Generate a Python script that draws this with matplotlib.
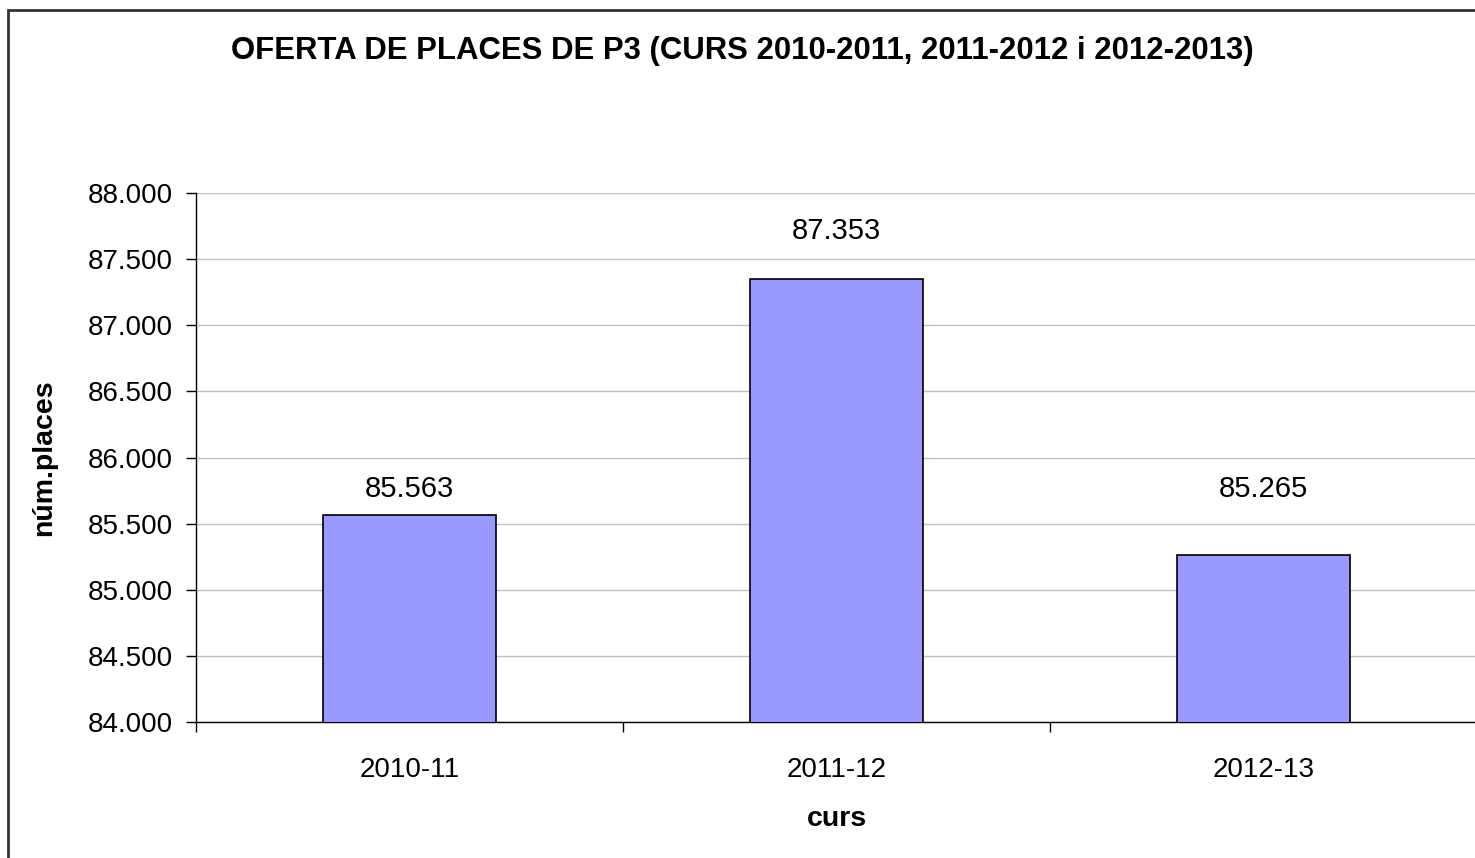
import matplotlib
matplotlib.use("Agg")
import matplotlib.pyplot as plt
from matplotlib.patches import Rectangle
from matplotlib.ticker import FuncFormatter, FixedLocator

plt.rcParams['font.family'] = ['Liberation Sans', 'DejaVu Sans']

cursos = ['2010-11', '2011-12', '2012-13']
places = [85563, 87353, 85265]
label_offsets = [19, 34, 47]  # points above bar top, as in the original
y_ticks = [84000, 84500, 85000, 85500, 86000, 86500, 87000, 87500, 88000]


def fmt_miles(v, pos=None):
    return f"{int(round(v)):,}".replace(",", ".")


fig = plt.figure(figsize=(14.75, 8.58), dpi=100)
fig.patch.set_facecolor('white')

# outer chart border
fig.patches.append(Rectangle((8 / 1475, -0.1), 1.2, 1 - 10 / 858 + 0.1,
                             transform=fig.transFigure, fill=False,
                             edgecolor='#333333', linewidth=2))

ax = fig.add_axes([196 / 1475, 136 / 858, 1281 / 1475, 529 / 858])
x = list(range(len(cursos)))
ax.bar(x, places, width=0.405, color='#9999FF', edgecolor='black',
       linewidth=1.2, zorder=3)

for xi, v, off in zip(x, places, label_offsets):
    ax.annotate(fmt_miles(v), (xi, v), xytext=(0, off), textcoords='offset points',
                ha='center', va='center', fontsize=21)

ax.set_ylim(84000, 88000)
ax.set_xlim(-0.5, 2.5)
ax.set_yticks(y_ticks)
ax.yaxis.set_major_formatter(FuncFormatter(fmt_miles))
ax.yaxis.grid(True, color='#C0C0C0', linewidth=1, zorder=0)
ax.set_axisbelow(True)

ax.xaxis.set_major_locator(FixedLocator([-0.5, 0.5, 1.5, 2.5]))
ax.xaxis.set_minor_locator(FixedLocator(x))
ax.set_xticklabels([], minor=False)
ax.set_xticklabels(cursos, minor=True)
ax.tick_params(axis='x', which='major', length=7, width=1, direction='out')
ax.tick_params(axis='x', which='minor', length=0, pad=25, labelsize=20)
ax.tick_params(axis='y', length=7, width=1, direction='out', pad=10, labelsize=20)

for s in ['top', 'right']:
    ax.spines[s].set_visible(False)
ax.spines['left'].set_linewidth(1)
ax.spines['bottom'].set_linewidth(1)

ax.set_xlabel('curs', fontsize=20.5, fontweight='bold', labelpad=17)
ax.set_ylabel('núm.places', fontsize=20.5, fontweight='bold', labelpad=22)

fig.text(742 / 1475, 1 - 51 / 858,
         'OFERTA DE PLACES DE P3 (CURS 2010-2011, 2011-2012 i 2012-2013)',
         ha='center', va='center', fontsize=22.4, fontweight='bold')

fig.savefig('out.png', dpi=100)
